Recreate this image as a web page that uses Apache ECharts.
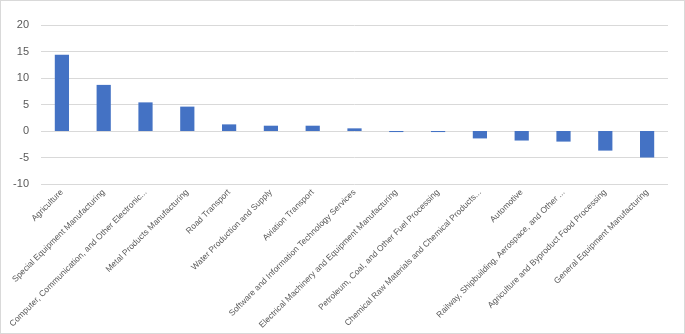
<!DOCTYPE html>
<html>
<head>
<meta charset="utf-8">
<script src="https://cdn.jsdelivr.net/npm/echarts@6/dist/echarts.min.js"></script>
<style>
  html, body { margin: 0; padding: 0; background: #fff; }
  #chart { width: 683px; height: 332px; border: 1px solid #d9d9d9; }
</style>
</head>
<body>
<div id="chart"></div>
<script>
const categories = [
  "Agriculture",
  "Special Equipment Manufacturing",
  "Computer, Communication, and Other Electronic...",
  "Metal Products Manufacturing",
  "Road Transport",
  "Water Production and Supply",
  "Aviation Transport",
  "Software and Information Technology Services",
  "Electrical Machinery and Equipment Manufacturing",
  "Petroleum, Coal, and Other Fuel Processing",
  "Chemical Raw Materials and Chemical Products...",
  "Automotive",
  "Railway, Shipbuilding, Aerospace, and Other ...",
  "Agriculture and Byproduct Food Processing",
  "General Equipment Manufacturing"
];
const values = [14.4, 8.7, 5.4, 4.6, 1.25, 1.0, 1.0, 0.5, -0.2, -0.2, -1.4, -1.8, -2.0, -3.7, -5.0];
const yTicks = [-10, -5, 0, 5, 10, 15, 20];

const chart = echarts.init(document.getElementById("chart"));

const options = {
  animation: false,
  grid: { left: 40, right: 16, top: 24, bottom: 149 },
  xAxis: {
    type: "category",
    data: categories,
    axisLine: { show: false },
    axisTick: { show: false },
    axisLabel: {
      rotate: 45,
      interval: 0,
      fontFamily: "Liberation Sans",
      fontSize: 8.5,
      color: "#595959",
      margin: 7
    }
  },
  yAxis: {
    type: "value",
    min: yTicks[0],
    max: yTicks[yTicks.length - 1],
    interval: 5,
    axisLine: { show: false },
    axisTick: { show: false },
    axisLabel: { fontFamily: "Liberation Sans", fontSize: 11, color: "#595959", margin: 12 },
    splitLine: { lineStyle: { color: "#d9d9d9", width: 1 } }
  },
  series: [
    {
      type: "bar",
      data: values,
      barWidth: "34%",
      itemStyle: { color: "#4472C4" }
    }
  ]
};

chart.setOption(options);
</script>
</body>
</html>
